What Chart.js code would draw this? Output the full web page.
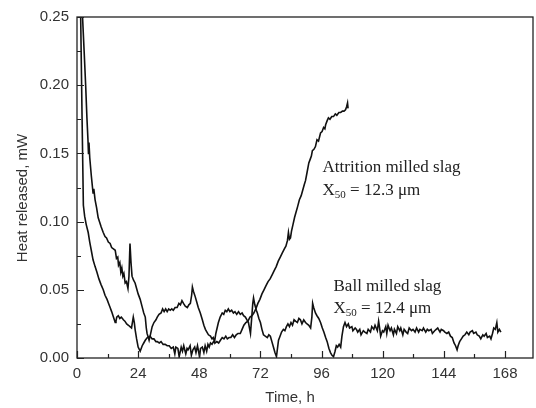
<!DOCTYPE html>
<html>
<head>
<meta charset="utf-8">
<title>Heat released</title>
<script src="https://cdn.jsdelivr.net/npm/chart.js@4.4.1/dist/chart.umd.min.js"></script>
<style>
  html, body { margin: 0; padding: 0; background: #fff; }
  #wrap { width: 536px; height: 408px; }
</style>
</head>
<body>
<div id="wrap"><canvas id="chart" width="536" height="408"></canvas></div>
<script>
// x ticks every 12 h, labelled every 24 h; y ticks every 0.025, labelled every 0.05
const xTickStep = 12;
const yTickStep = 0.025;

// attrition milled slag, X50 = 12.3 um
const attritionTime = [
  1.2, 1.45, 2.0, 2.5, 3.0, 3.6, 4.4, 5.0, 5.6, 6.3, 7.1, 7.8, 8.6, 9.4, 10.3, 11.0, 11.8, 12.4, 13.0, 13.6,
  14.3, 15.0, 15.3, 15.6, 16.2, 16.8, 17.4, 18.2, 18.8, 19.5, 20.2, 20.8, 21.4, 22.1, 22.5, 22.8, 23.4, 24.0, 24.8, 25.6,
  26.2, 26.8, 27.6, 28.7, 29.5, 30.2, 31.0, 31.5, 32.3, 33.0, 33.8, 34.6, 35.4, 36.2, 37.0, 37.8, 38.4, 38.8, 39.6, 40.1,
  40.9, 41.4, 41.9, 42.7, 43.2, 43.6, 44.4, 44.9, 45.5, 46.2, 46.7, 47.3, 48.1, 48.5, 49.2, 49.8, 50.3, 50.9, 51.4, 51.9,
  52.4, 53.0, 53.6, 54.2, 54.9, 55.6, 56.3, 57.0, 57.7, 58.4, 59.0, 59.7, 60.4, 61.1, 61.8, 62.5, 63.2, 64.1, 64.8, 65.5,
  66.3, 67.1, 67.9, 68.7, 69.4, 70.2, 71.0, 71.8, 72.6, 73.4, 74.2, 75.0, 75.8, 76.6, 77.4, 78.2, 79.0, 79.8, 80.6, 81.4,
  82.0, 82.6, 83.0, 83.4, 83.8, 84.2, 84.8, 85.4, 86.0, 86.6, 87.3, 88.0, 88.6, 89.2, 89.7, 90.3, 91.0, 91.6, 92.0, 92.4,
  93.0, 93.6, 94.2, 94.8, 95.6, 96.2, 96.8, 97.3, 97.6, 98.2, 98.7, 99.3, 100.0, 100.7, 101.4, 102.0, 102.8, 103.5, 104.2, 104.8,
  105.4, 105.8, 106.2, 106.4
];
const attritionHeat = [
  0.270, 0.249, 0.175, 0.112, 0.104, 0.098, 0.092, 0.085, 0.079, 0.072, 0.067, 0.063, 0.058, 0.054, 0.050, 0.046, 0.043, 0.040, 0.037, 0.034,
  0.030, 0.026, 0.027, 0.030, 0.031, 0.029, 0.030, 0.028, 0.027, 0.025, 0.024, 0.023, 0.022, 0.030, 0.026, 0.021, 0.014, 0.008, 0.005, 0.009,
  0.011, 0.013, 0.015, 0.016, 0.014, 0.014, 0.012, 0.012, 0.011, 0.012, 0.010, 0.010, 0.009, 0.009, 0.007, 0.008, 0.003, 0.008, 0.007, 0.001,
  0.008, 0.005, 0.009, 0.003, 0.007, 0.006, 0.009, 0.002, 0.006, 0.008, 0.004, 0.009, 0.001, 0.007, 0.008, 0.004, 0.009, 0.005, 0.010, 0.008,
  0.011, 0.010, 0.012, 0.011, 0.012, 0.011, 0.013, 0.015, 0.014, 0.016, 0.014, 0.015, 0.015, 0.017, 0.015, 0.017, 0.018, 0.018, 0.021, 0.024,
  0.026, 0.027, 0.030, 0.031, 0.033, 0.036, 0.040, 0.043, 0.047, 0.050, 0.053, 0.056, 0.058, 0.061, 0.064, 0.067, 0.071, 0.074, 0.077, 0.080,
  0.082, 0.086, 0.092, 0.087, 0.088, 0.093, 0.098, 0.103, 0.107, 0.111, 0.116, 0.119, 0.123, 0.127, 0.130, 0.136, 0.143, 0.146, 0.148, 0.152,
  0.153, 0.155, 0.160, 0.159, 0.165, 0.166, 0.169, 0.168, 0.171, 0.174, 0.176, 0.175, 0.177, 0.177, 0.179, 0.178, 0.180, 0.180, 0.181, 0.181,
  0.182, 0.184, 0.187, 0.183
];

// ball milled slag, X50 = 12.4 um
const ballTime = [
  1.9, 2.2, 2.8, 3.4, 3.9, 4.3, 4.5, 4.7, 5.0, 5.6, 6.3, 6.6, 7.1, 7.7, 8.3, 8.8, 9.5, 10.3, 11.0, 11.6,
  12.3, 13.0, 13.6, 14.3, 15.0, 15.5, 16.0, 16.3, 16.8, 17.2, 17.6, 18.0, 18.4, 18.9, 19.4, 20.0, 20.4, 20.8, 21.2, 21.6,
  22.2, 22.8, 23.4, 24.0, 24.8, 25.5, 26.2, 26.8, 27.2, 27.5, 28.0, 28.3, 28.8, 29.5, 30.2, 31.0, 31.5, 32.2, 33.0, 33.6,
  34.2, 34.8, 35.4, 36.0, 36.6, 37.2, 37.8, 38.5, 39.3, 40.0, 40.6, 41.2, 41.8, 42.5, 43.3, 43.9, 44.5, 45.0, 45.3, 45.7,
  46.4, 47.0, 47.6, 48.4, 49.2, 49.8, 50.4, 51.0, 51.6, 52.4, 53.0, 53.5, 54.0, 54.5, 55.0, 55.5, 56.2, 57.0, 57.6, 58.2,
  58.8, 59.4, 60.0, 60.7, 61.4, 62.0, 62.7, 63.4, 64.1, 64.8, 65.4, 66.1, 66.7, 67.3, 67.8, 68.1, 68.6, 69.0, 69.3, 69.8,
  70.4, 70.8, 71.4, 72.0, 72.6, 73.2, 73.9, 74.7, 75.3, 75.9, 76.5, 77.1, 77.7, 78.3, 78.7, 79.1, 79.7, 80.3, 81.0, 81.6,
  82.2, 82.8, 83.4, 84.0, 84.6, 85.2, 85.8, 86.5, 87.1, 87.7, 88.3, 89.0, 89.7, 90.3, 91.0, 91.7, 92.2, 92.5, 92.9, 93.6,
  94.2, 94.9, 95.6, 96.3, 96.9, 97.6, 98.2, 98.9, 99.5, 100.1, 100.7, 101.3, 101.8, 102.3, 102.9, 103.5, 104.0, 104.6, 105.2, 105.8,
  106.5, 107.0, 107.9, 108.3, 109.2, 109.7, 110.2, 111.0, 111.5, 112.4, 113.0, 113.8, 114.3, 115.2, 115.7, 116.5, 117.0, 117.9, 118.4, 118.8,
  119.2, 119.9, 120.4, 121.2, 121.6, 122.1, 122.9, 123.4, 124.2, 124.6, 125.4, 125.9, 126.7, 127.1, 127.9, 128.4, 129.2, 129.8, 130.4, 131.3,
  131.9, 132.7, 133.3, 134.1, 134.6, 135.5, 136.0, 136.9, 137.5, 138.1, 139.0, 139.5, 140.4, 141.0, 141.6, 142.5, 143.0, 143.9, 144.4, 145.2,
  145.9, 146.6, 147.3, 148.0, 148.6, 149.2, 149.6, 150.2, 150.9, 151.6, 152.3, 153.0, 153.8, 154.3, 155.2, 155.7, 156.6, 157.1, 157.9, 158.5,
  159.3, 159.8, 160.6, 161.1, 162.0, 162.5, 163.1, 163.6, 164.2, 164.8, 165.2, 165.8, 166.4
];
const ballHeat = [
  0.262, 0.249, 0.225, 0.200, 0.176, 0.160, 0.150, 0.158, 0.147, 0.134, 0.121, 0.124, 0.116, 0.110, 0.103, 0.100, 0.096, 0.092, 0.089, 0.088,
  0.085, 0.084, 0.081, 0.080, 0.079, 0.073, 0.074, 0.068, 0.070, 0.063, 0.066, 0.060, 0.062, 0.055, 0.056, 0.051, 0.060, 0.084, 0.070, 0.060,
  0.057, 0.055, 0.051, 0.047, 0.043, 0.038, 0.033, 0.030, 0.022, 0.018, 0.015, 0.013, 0.017, 0.023, 0.026, 0.028, 0.030, 0.032, 0.033, 0.036,
  0.034, 0.036, 0.034, 0.036, 0.035, 0.036, 0.035, 0.037, 0.037, 0.040, 0.039, 0.042, 0.040, 0.038, 0.037, 0.039, 0.040, 0.046, 0.052, 0.049,
  0.045, 0.041, 0.037, 0.033, 0.028, 0.024, 0.021, 0.019, 0.017, 0.016, 0.014, 0.015, 0.012, 0.018, 0.022, 0.026, 0.030, 0.033, 0.032, 0.035,
  0.034, 0.036, 0.034, 0.035, 0.033, 0.034, 0.032, 0.034, 0.032, 0.033, 0.031, 0.030, 0.028, 0.026, 0.021, 0.018, 0.030, 0.040, 0.044, 0.039,
  0.035, 0.033, 0.029, 0.026, 0.021, 0.017, 0.016, 0.015, 0.017, 0.016, 0.012, 0.008, 0.004, 0.001, 0.007, 0.013, 0.016, 0.019, 0.021, 0.020,
  0.023, 0.025, 0.023, 0.026, 0.024, 0.028, 0.027, 0.026, 0.029, 0.028, 0.025, 0.028, 0.026, 0.025, 0.024, 0.022, 0.030, 0.040, 0.037, 0.033,
  0.031, 0.029, 0.026, 0.022, 0.019, 0.015, 0.012, 0.007, 0.004, 0.002, 0.001, 0.005, 0.009, 0.008, 0.010, 0.008, 0.016, 0.023, 0.026, 0.023,
  0.025, 0.022, 0.023, 0.020, 0.022, 0.021, 0.019, 0.021, 0.017, 0.020, 0.019, 0.018, 0.021, 0.019, 0.023, 0.021, 0.024, 0.020, 0.027, 0.022,
  0.016, 0.020, 0.019, 0.023, 0.018, 0.024, 0.020, 0.022, 0.017, 0.021, 0.018, 0.023, 0.020, 0.022, 0.017, 0.021, 0.019, 0.018, 0.022, 0.020,
  0.021, 0.019, 0.022, 0.019, 0.021, 0.020, 0.022, 0.019, 0.021, 0.020, 0.021, 0.018, 0.020, 0.021, 0.022, 0.019, 0.021, 0.020, 0.019, 0.018,
  0.019, 0.016, 0.015, 0.011, 0.009, 0.006, 0.009, 0.012, 0.014, 0.016, 0.017, 0.019, 0.017, 0.019, 0.020, 0.018, 0.019, 0.017, 0.016, 0.014,
  0.017, 0.016, 0.018, 0.015, 0.016, 0.014, 0.018, 0.022, 0.021, 0.026, 0.019, 0.021, 0.019
];

const toPoints = (times, values) => times.map((t, i) => ({ x: t, y: values[i] }));

const sansFont = "'Liberation Sans', Arial, sans-serif";
const serifFont = "'Liberation Serif', 'Times New Roman', serif";
const inkColor = "#111";
const textColor = "#333";

// inward tick marks (major + minor) and the box around the plot
const frameTicksPlugin = {
  id: "frameTicks",
  afterDatasetsDraw: (chart) => {
    const { ctx, chartArea, scales } = chart;
    const { left, right, top, bottom } = chartArea;
    ctx.save();
    ctx.strokeStyle = "#222";
    ctx.lineWidth = 1.3;
    ctx.strokeRect(left, top, right - left, bottom - top);

    ctx.lineWidth = 1.2;
    ctx.beginPath();
    scales.x.ticks.forEach((tick) => {
      const px = Math.round(scales.x.getPixelForValue(tick.value)) + 0.5;
      const len = tick.value % 24 === 0 ? 7 : 4;
      ctx.moveTo(px, bottom);
      ctx.lineTo(px, bottom - len);
    });
    scales.y.ticks.forEach((tick) => {
      const py = Math.round(scales.y.getPixelForValue(tick.value)) + 0.5;
      const major = Math.round(tick.value * 1000) % 50 === 0;
      const len = major ? 7 : 4;
      ctx.moveTo(left, py);
      ctx.lineTo(left + len, py);
    });
    ctx.stroke();
    ctx.restore();
  },
};

// axis titles and the two curve labels
const labelsPlugin = {
  id: "curveLabels",
  afterDraw: (chart) => {
    const { ctx, scales } = chart;
    ctx.save();
    ctx.fillStyle = textColor;
    ctx.font = `15px ${sansFont}`;
    ctx.textAlign = "center";
    ctx.textBaseline = "middle";
    ctx.fillText("Time, h", 290, 398);
    ctx.translate(23, 198);
    ctx.rotate(-Math.PI / 2);
    ctx.fillText("Heat released, mW", 0, 0);
    ctx.restore();

    const drawX50 = (x, y, rest) => {
      ctx.font = `17px ${serifFont}`;
      ctx.fillText("X", x, y);
      let cx = x + ctx.measureText("X").width;
      ctx.font = `11px ${serifFont}`;
      ctx.fillText("50", cx, y + 3);
      cx += ctx.measureText("50").width;
      ctx.font = `17px ${serifFont}`;
      ctx.fillText(rest, cx, y);
    };

    ctx.save();
    ctx.fillStyle = "#222";
    ctx.textAlign = "left";
    ctx.textBaseline = "alphabetic";

    const ax = scales.x.getPixelForValue(96.4);
    ctx.font = `17px ${serifFont}`;
    ctx.fillText("Attrition milled slag", ax, scales.y.getPixelForValue(0.1364));
    drawX50(ax, scales.y.getPixelForValue(0.1195), " = 12.3 \u03bcm");

    const bx = scales.x.getPixelForValue(100.7);
    ctx.font = `17px ${serifFont}`;
    ctx.fillText("Ball milled slag", bx, scales.y.getPixelForValue(0.0491));
    drawX50(bx, scales.y.getPixelForValue(0.033), " = 12.4 \u03bcm");
    ctx.restore();
  },
};

new Chart(document.getElementById("chart"), {
  type: "line",
  data: {
    datasets: [
      {
        label: "Attrition milled slag",
        data: toPoints(attritionTime, attritionHeat),
        borderColor: inkColor,
        borderWidth: 1.6,
        pointRadius: 0,
        tension: 0,
        fill: false,
      },
      {
        label: "Ball milled slag",
        data: toPoints(ballTime, ballHeat),
        borderColor: inkColor,
        borderWidth: 1.6,
        pointRadius: 0,
        tension: 0,
        fill: false,
      },
    ],
  },
  options: {
    responsive: false,
    animation: false,
    devicePixelRatio: 1,
    layout: { padding: { top: 17, right: 3, left: 0, bottom: 0 } },
    plugins: {
      legend: { display: false },
      tooltip: { enabled: false },
    },
    scales: {
      x: {
        type: "linear",
        min: 0,
        max: 179,
        afterFit: (scale) => { scale.height = 50; },
        border: { display: false },
        grid: { display: false, drawTicks: false },
        ticks: {
          stepSize: xTickStep,
          includeBounds: false,
          autoSkip: false,
          maxRotation: 0,
          padding: 7,
          color: textColor,
          font: { family: sansFont, size: 15 },
          callback: (value) => (value % 24 === 0 ? String(value) : ""),
        },
      },
      y: {
        min: 0,
        max: 0.25,
        afterFit: (scale) => { scale.width = 77; },
        border: { display: false },
        grid: { display: false, drawTicks: false },
        ticks: {
          stepSize: yTickStep,
          autoSkip: false,
          padding: 8,
          color: textColor,
          font: { family: sansFont, size: 15 },
          callback: (value) => (Math.round(value * 1000) % 50 === 0 ? value.toFixed(2) : ""),
        },
      },
    },
  },
  plugins: [frameTicksPlugin, labelsPlugin],
});
</script>
</body>
</html>
